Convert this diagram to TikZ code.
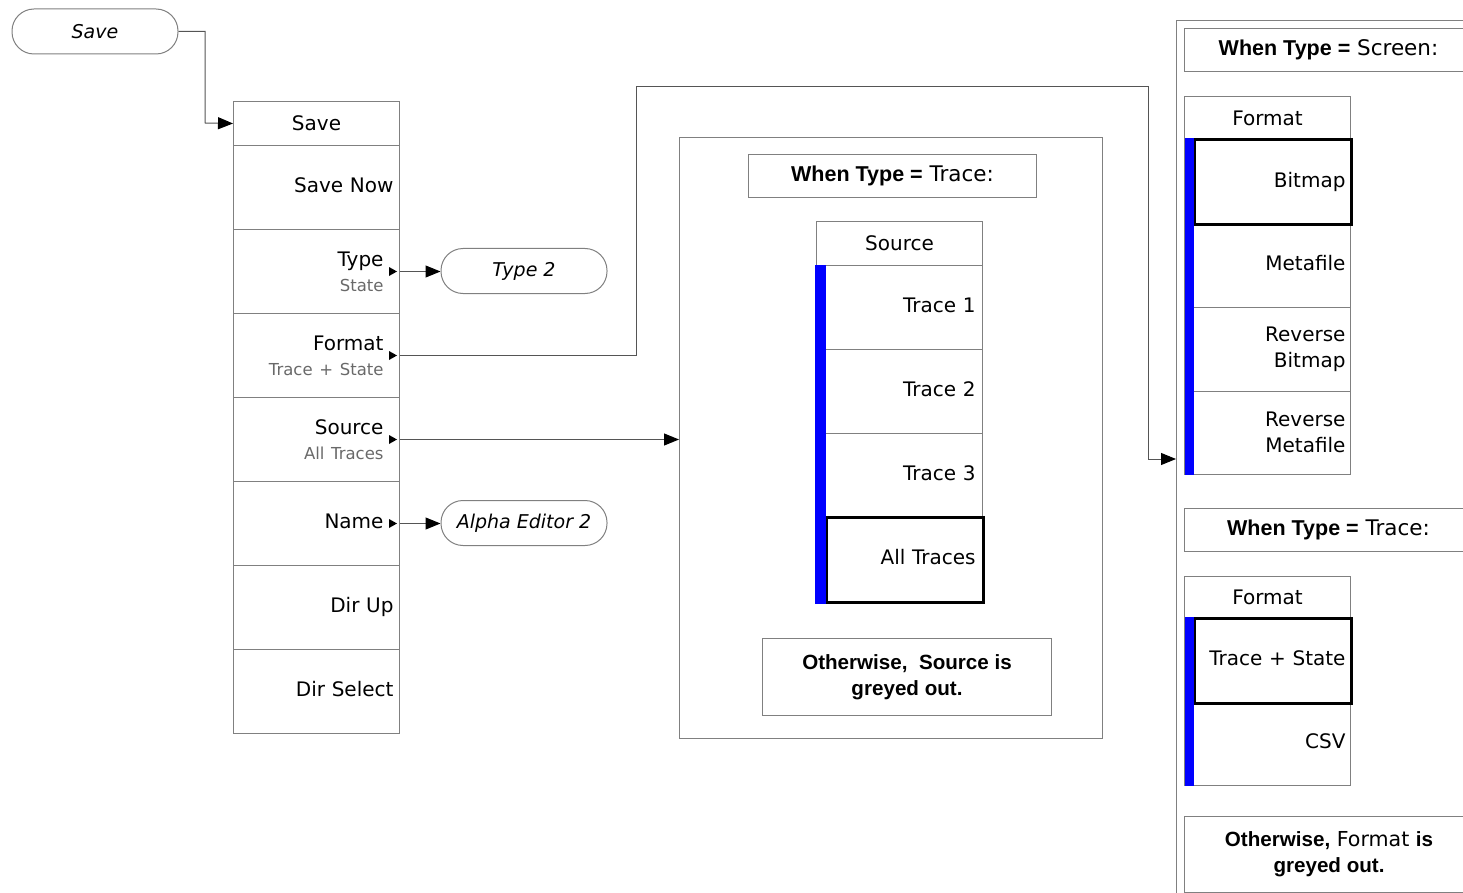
\documentclass[tikz,border=0pt]{standalone}
\usepackage{fontspec}
\setmainfont{DejaVu Sans}
\newfontfamily\arialfont{Liberation Sans}
\usetikzlibrary{arrows.meta,calc}
\definecolor{boxgray}{RGB}{128,128,128}
\definecolor{conngray}{RGB}{85,85,85}
\definecolor{subgray}{RGB}{105,105,105}
\definecolor{selblue}{RGB}{0,0,255}
\newcommand{\mainfnt}{\fontsize{20}{25}\selectfont}
\newcommand{\twofnt}{\fontsize{20}{26}\selectfont}
\newcommand{\whenfnt}{\fontsize{21.5}{26}\selectfont}
\newcommand{\otherfnt}{\fontsize{20.6}{26}\selectfont}
\newcommand{\mysubfnt}{\fontsize{16.5}{25}\selectfont\color{subgray}}
\newcommand{\bfA}{\arialfont\bfseries}
\newcommand{\tri}[1]{\fill ($(#1.east)+(-11,-4.5)$) -- ($(#1.east)+(-3,0)$) -- ($(#1.east)+(-11,4.5)$) -- cycle;}
\begin{document}
\begin{tikzpicture}[x=1pt,y=-1pt,
  box/.style={draw=boxgray, line width=1pt, inner sep=0pt},
  mtitle/.style={box, minimum width=166pt, minimum height=44pt, anchor=north west, font=\mainfnt},
  mrow/.style={box, minimum width=166pt, minimum height=84pt, anchor=north west, text width=154pt, align=right, font=\mainfnt},
  one/.style={text depth=5pt},
  mrowa/.style={mrow, text width=134pt},
  srow/.style={mrow, one, text width=152pt},
  frow/.style={mrow, text width=156pt, minimum height=83.5pt},
  oval/.style={draw=boxgray, line width=1pt, rounded corners=22pt, minimum width=166pt, minimum height=45pt, inner sep=0pt, font=\fontsize{19}{23}\selectfont\itshape},
  whenbox/.style={box, minimum width=288pt, minimum height=43pt, anchor=north west, font=\whenfnt},
  otherbox/.style={box, minimum width=289pt, minimum height=77pt, anchor=north west, align=center, font=\otherfnt},
  conn/.style={draw=conngray, line width=1pt, -{Triangle[length=15pt,width=12pt,color=black]}},
  thick/.style={draw=black, line width=3pt},
]
\useasboundingbox (0,0) rectangle (1463,893);
\clip (0,0) rectangle (1463,893);

% ---------- left menu ----------
\node[oval] (saveo) at (95,31.5) {Save};
\node[mtitle] (mt) at (233,101) {Save};
\node[mrow, one] (snow) at (233,145) {Save Now};
\node[mrowa] (typ) at (233,229) {Type\\{\mysubfnt State}};
\node[mrowa] (fmt) at (233,313) {Format\\{\mysubfnt Trace + State}};
\node[mrowa] (src) at (233,397) {Source\\{\mysubfnt All Traces}};
\node[mrowa, one] (nam) at (233,481) {Name};
\node[mrow, one] (dup) at (233,565) {Dir Up};
\node[mrow, one] (dsel) at (233,649) {Dir Select};
\tri{typ}
\tri{fmt}
\tri{src}
\tri{nam}

\node[oval] (type2) at (524,271) {Type 2};
\node[oval] (alpha) at (524,523) {Alpha Editor 2};

% ---------- middle panel ----------
\node[box, minimum width=423pt, minimum height=601pt, anchor=north west] (mframe) at (679,137) {};
\node[whenbox] (w1) at (748,154) {{\bfA When Type =} Trace:};
\node[mtitle] (stt) at (816,221) {Source};
\node[srow] (tr1) at (816,265) {Trace 1};
\node[srow] (tr2) at (816,349) {Trace 2};
\node[srow] (tr3) at (816,433) {Trace 3};
\node[srow] (atr) at (816,517) {All Traces};
\draw[thick] ($(atr.north west)+(10,0)$) rectangle (atr.south east);
\fill[selblue] ($(tr1.north west)+(-1,0)$) rectangle ($(atr.south west)+(10,1.5)$);
\node[otherbox] (o1) at (762,638) {{\bfA Otherwise,\ \ Source is}\\{\bfA greyed out.}};

% ---------- right panel ----------
\node[box, minimum width=423pt, minimum height=920pt, anchor=north west] (rframe) at (1176,20) {};
\coordinate (fmtin) at (1176,459);
\node[whenbox] (w2) at (1184,28) {{\bfA When Type =} Screen:};
\node[mtitle] (ft1) at (1184,96) {Format};
\node[frow, one] (bmp) at (1184,140) {Bitmap};
\node[frow, one] (meta) at (1184,223.5) {Metafile};
\node[frow, font=\twofnt] (rbmp) at (1184,307) {Reverse\\Bitmap};
\node[frow, font=\twofnt] (rmeta) at (1184,390.5) {Reverse\\Metafile};
\draw[thick] ($(bmp.north west)+(10,0)$) rectangle (bmp.south east);
\fill[selblue] ($(bmp.north west)+(1,-1.5)$) rectangle ($(rmeta.south west)+(10,0)$);

\node[whenbox] (w3) at (1184,508) {{\bfA When Type =} Trace:};
\node[mtitle, minimum height=42pt] (ft2) at (1184,576) {Format};
\node[frow, one, minimum height=84pt] (ts) at (1184,618) {Trace + State};
\node[frow, one, minimum height=83pt] (csv) at (1184,702) {CSV};
\draw[thick] ($(ts.north west)+(10,0)$) rectangle (ts.south east);
\fill[selblue] ($(ts.north west)+(1,-1.5)$) rectangle ($(csv.south west)+(10,0)$);
\node[otherbox, minimum height=76pt] (o2) at (1184,816) {{\bfA Otherwise,} Format {\bfA is}\\{\bfA greyed out.}};

% ---------- connectors ----------
\draw[conn] (saveo.east) -| (205,123) -- (mt.west);
\draw[conn] (typ.east) -- (typ.east -| type2.west);
\draw[conn] (nam.east) -- (nam.east -| alpha.west);
\draw[conn] (src.east) -- (src.east -| mframe.west);
\draw[conn] (fmt.east) -| (636,87) -| (1148,459) -- (fmtin);
\end{tikzpicture}
\end{document}
